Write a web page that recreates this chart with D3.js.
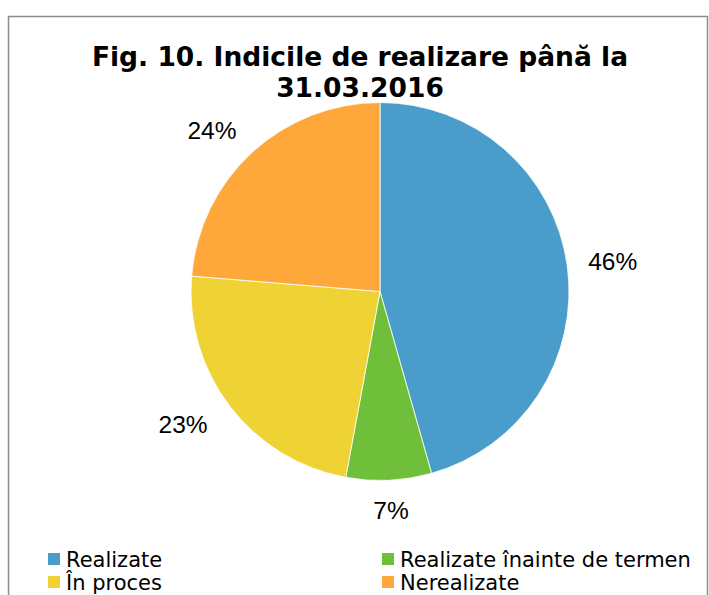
<!DOCTYPE html>
<html>
<head>
<meta charset="utf-8">
<script src="https://cdn.jsdelivr.net/npm/d3@7"></script>
<style>
  html, body { margin: 0; padding: 0; background: #fff; }
  svg { display: block; }
</style>
</head>
<body>
<svg width="709" height="595"></svg>
<script>
'use strict';
(() => {

var categories = ['Realizate', 'Realizate înainte de termen', 'În proces', 'Nerealizate'];
var values = [45.6, 7.3, 23.4, 23.7];
var colors = ['#4a9cca', '#70bf3a', '#efd234', '#fea83b'];
var titleLines = ['Fig. 10. Indicile de realizare până la', '31.03.2016'];

var svg = d3.select('svg');

// chart frame (bottom edge runs off the picture)
svg.append('rect')
  .attr('x', 8.5).attr('y', 16.5)
  .attr('width', 699).attr('height', 620)
  .attr('fill', '#fff')
  .attr('stroke', '#8c8c8c')
  .attr('stroke-width', 1.5);

svg.append('g').selectAll('text').data(titleLines).enter().append('text')
  .attr('x', 360)
  .attr('y', (d, i) => 66 + i * 31)
  .attr('text-anchor', 'middle')
  .attr('font-family', 'DejaVu Sans, Verdana, sans-serif')
  .attr('font-weight', 'bold')
  .attr('font-size', 26.5)
  .attr('fill', '#000')
  .text(d => d);

var cx = 380, cy = 291.5, r = 189;
var total = d3.sum(values);
var pie = d3.pie().sort(null).value(d => d);
var arc = d3.arc().innerRadius(0).outerRadius(r);
var arcs = pie(values);

var g = svg.append('g').attr('transform', `translate(${cx},${cy})`);
g.selectAll('path').data(arcs).enter().append('path')
  .attr('d', arc)
  .attr('fill', (d, i) => colors[i])
  .attr('stroke', '#fff')
  .attr('stroke-width', 0.8);

// labels sit just outside the rim, pushed out by half their box
g.selectAll('text.lbl').data(arcs).enter().append('text')
  .attr('class', 'lbl')
  .attr('font-family', 'Liberation Sans, Arial, sans-serif')
  .attr('font-size', 24.5)
  .attr('fill', '#000')
  .attr('text-anchor', 'middle')
  .attr('dominant-baseline', 'central')
  .text(d => Math.round(d.value / total * 100) + '%')
  .each(function(d) {
    var a = (d.startAngle + d.endAngle) / 2;
    var rr = r + 21;
    var sx = Math.sin(a), sy = -Math.cos(a);
    var half = sx < 0 ? 38 : 25;
    d3.select(this)
      .attr('x', sx * (rr + half))
      .attr('y', sy * (rr + 9));
  });

var legend = svg.append('g');
var item = legend.selectAll('g').data(categories).enter().append('g')
  .attr('transform', (d, i) => `translate(${i % 2 === 0 ? 48 : 382}, ${559 + Math.floor(i / 2) * 23})`);
item.append('rect')
  .attr('x', 0).attr('y', -6)
  .attr('width', 12).attr('height', 12)
  .attr('fill', (d, i) => colors[i]);
item.append('text')
  .attr('x', 18)
  .attr('y', 7.5)
  .attr('font-family', 'DejaVu Sans, Verdana, sans-serif')
  .attr('font-size', 21)
  .attr('fill', '#000')
  .text(d => d);

})();
</script>
</body>
</html>
